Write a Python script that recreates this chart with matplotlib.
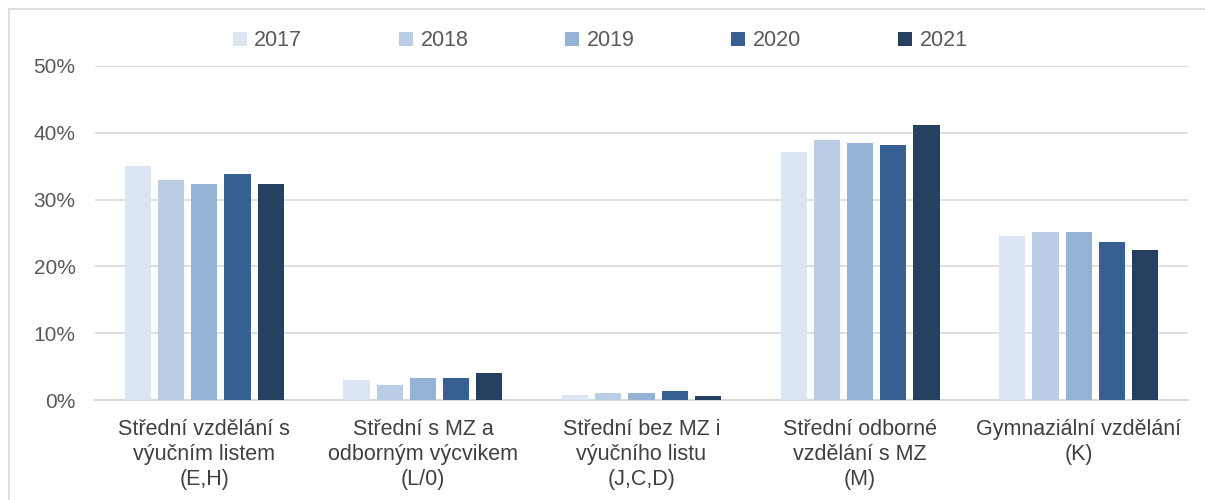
import matplotlib
matplotlib.use("Agg")
import matplotlib.pyplot as plt
import numpy as np
from matplotlib.lines import Line2D

categories = ["Střední vzdělání s\nvýučním listem\n(E,H)",
              "Střední s MZ a\nodborným výcvikem\n(L/0)",
              "Střední bez MZ i\nvýučního listu\n(J,C,D)",
              "Střední odborné\nvzdělání s MZ\n(M)",
              "Gymnaziální vzdělání\n(K)"]
years = ["2017", "2018", "2019", "2020", "2021"]
v2017 = [35.0, 3.0, 0.8, 37.2, 24.6]
v2018 = [32.9, 2.3, 1.0, 38.9, 25.1]
v2019 = [32.4, 3.3, 1.0, 38.4, 25.1]
v2020 = [33.9, 3.3, 1.3, 38.2, 23.6]
v2021 = [32.4, 4.1, 0.6, 41.2, 22.4]
series = [v2017, v2018, v2019, v2020, v2021]
colors = ["#DCE6F2", "#B9CDE5", "#95B3D7", "#366092", "#254061"]
yticks = [0, 10, 20, 30, 40, 50]
ytick_labels = ["0%", "10%", "20%", "30%", "40%", "50%"]

plt.rcParams['font.family'] = ['Liberation Sans', 'DejaVu Sans']
fig = plt.figure(figsize=(12.05, 5), dpi=100)
ax = fig.add_axes([95/1205, 0.2, (1188-95)/1205, (400-66)/500])

x = np.arange(len(categories))
step = 0.152
width = 0.12
for i, (vals, c, lab) in enumerate(zip(series, colors, years)):
    ax.bar(x + (i - 2) * step, vals, width=width, color=c, label=lab, zorder=3)

ax.set_xlim(-0.5, len(categories) - 0.5)
ax.set_ylim(0, 50)
ax.set_yticks(yticks)
ax.set_yticklabels(ytick_labels, fontsize=15, color="#595959")
ax.set_xticks(x)
ax.set_xticklabels(categories, fontsize=15.5, color="#404040", linespacing=1.25)
ax.tick_params(axis='both', length=0)
ax.tick_params(axis='y', pad=14)
ax.tick_params(axis='x', pad=14)
ax.grid(axis='y', color="#D9D9D9", linewidth=1.2, zorder=0)
for s in ["top", "right", "left"]:
    ax.spines[s].set_visible(False)
ax.spines["bottom"].set_color("#D9D9D9")
ax.spines["bottom"].set_linewidth(1.5)

leg = fig.legend(loc="center", bbox_to_anchor=(0.498, 1 - 41/500), ncol=5, frameon=False,
                 fontsize=15.5, handlelength=0.65, handleheight=0.65, columnspacing=4.5,
                 handletextpad=0.35)
for t in leg.get_texts():
    t.set_color("#595959")

fx = 8.5 / 1205
fy = 1 - 8.5 / 500
fig.add_artist(Line2D([fx, fx], [0, fy], transform=fig.transFigure, color="#D9D9D9", linewidth=1.2))
fig.add_artist(Line2D([fx, 1], [fy, fy], transform=fig.transFigure, color="#D9D9D9", linewidth=1.2))

fig.savefig("out.png", dpi=100)
